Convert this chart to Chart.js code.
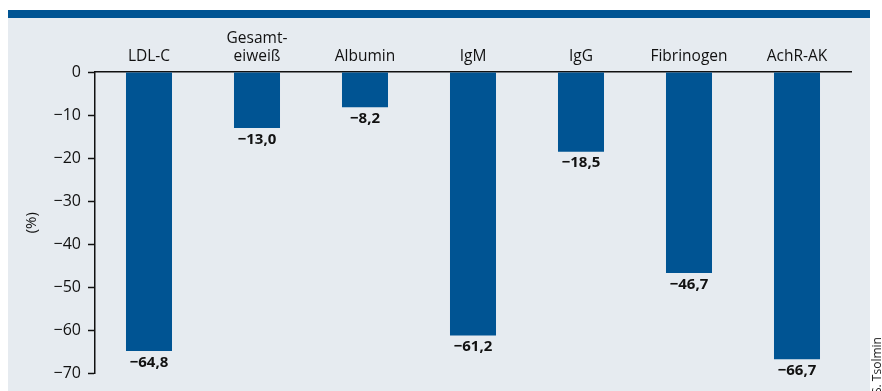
<!DOCTYPE html>
<html>
<head>
<meta charset="utf-8">
<script src="https://cdn.jsdelivr.net/npm/chart.js@4"></script>
<style>
  html, body { margin: 0; padding: 0; background: #ffffff; }
  body { width: 882px; height: 391px; position: relative; overflow: hidden; }
  #topbar { position: absolute; left: 8px; top: 10px; width: 862px; height: 8px; background: #005493; }
  #panel { position: absolute; left: 8px; top: 18px; width: 862px; height: 373px; background: #e6ebf0; }
  #wrap { position: absolute; left: 8px; top: 18px; width: 862px; height: 372px; }
  #credit { position: absolute; left: 871px; top: 394px; transform-origin: 0 0; transform: rotate(-90deg);
            font: 12px "Open Sans", sans-serif; line-height: 12px; color: #222; white-space: nowrap; }
</style>
</head>
<body>
<div id="topbar"></div>
<div id="panel"></div>
<div id="wrap"><canvas id="c" width="862" height="372"></canvas></div>
<div id="credit">S. Tsolmin</div>
<script>
const categories = ["LDL-C", ["Gesamt-", "eiweiß"], "Albumin", "IgM", "IgG", "Fibrinogen", "AchR-AK"];
const values = [-64.8, -13.0, -8.2, -61.2, -18.5, -46.7, -66.7];
const yMin = -70;
const yMax = 0;
const yStep = 10;
const yTitle = "(%)";

const MINUS = "\u2212";
const fmtTick = v => v === 0 ? "0" : MINUS + Math.abs(v);
const fmtVal = v => MINUS + Math.abs(v).toFixed(1).replace(".", ",");

const FONT = "'Open Sans', sans-serif";

const valueLabels = {
  id: "valueLabels",
  afterDatasetsDraw(chart) {
    const ctx = chart.ctx;
    const meta = chart.getDatasetMeta(0);
    ctx.save();
    ctx.font = "bold 15px " + FONT;
    ctx.fillStyle = "#111";
    ctx.textAlign = "center";
    ctx.textBaseline = "top";
    meta.data.forEach((bar, i) => {
      ctx.fillText(fmtVal(values[i]), bar.x, bar.y + 4);
    });
    ctx.restore();
  }
};

new Chart(document.getElementById("c"), {
  type: "bar",
  data: {
    labels: categories,
    datasets: [{
      data: values,
      backgroundColor: "#005493",
      borderWidth: 0,
      barPercentage: 0.426,
      categoryPercentage: 1.0
    }]
  },
  options: {
    responsive: false,
    animation: false,
    layout: { padding: { left: 0, right: 19, top: 0, bottom: 15 } },
    plugins: { legend: { display: false }, tooltip: { enabled: false } },
    scales: {
      x: {
        position: "top",
        grid: { display: false, drawTicks: false },
        border: { display: true, color: "#111", width: 1.5 },
        ticks: {
          color: "#111",
          font: { family: FONT, size: 15.5 },
          padding: 6,
          maxRotation: 0,
          autoSkip: false
        },
        afterFit(scale) { scale.height = 54; }
      },
      y: {
        min: yMin,
        max: yMax,
        grid: { drawOnChartArea: false, drawTicks: true, tickLength: 7, color: "#111", tickWidth: 1.5 },
        border: { display: true, color: "#111", width: 1.5 },
        ticks: {
          stepSize: yStep,
          color: "#111",
          font: { family: FONT, size: 16 },
          padding: 7,
          callback: v => fmtTick(v)
        },
        title: {
          display: true,
          text: yTitle,
          color: "#111",
          font: { family: FONT, size: 15 },
          padding: { top: 15, bottom: 0 }
        },
        afterFit(scale) { scale.width = 87; }
      }
    }
  },
  plugins: [valueLabels]
});
</script>
</body>
</html>
